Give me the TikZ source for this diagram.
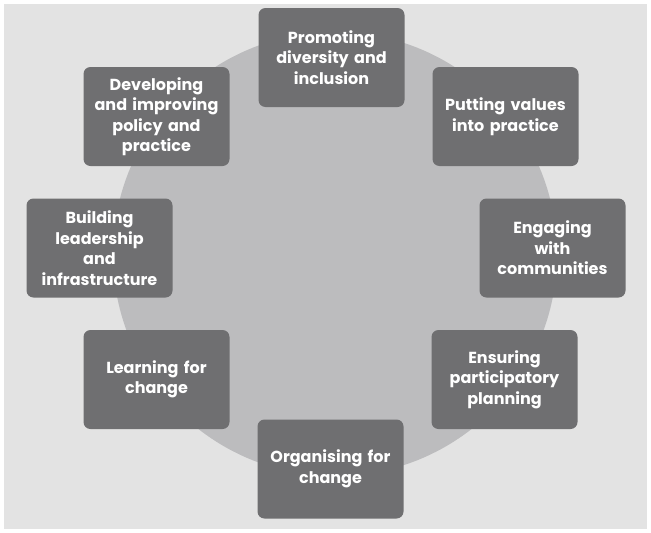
\documentclass[tikz,border=0pt]{standalone}
\usepackage{fontspec}
\setmainfont{Poppins}
\definecolor{bgfill}{HTML}{E3E3E3}
\definecolor{circfill}{HTML}{BCBCBE}
\definecolor{boxfill}{HTML}{6F6F71}
\tikzset{
  stagebox/.style={fill=boxfill, rounded corners=7pt, minimum width=146pt, minimum height=99pt,
    text width=140pt, align=center, text=white, inner sep=0pt,
    font=\fontsize{16}{20.5}\selectfont\bfseries},
}
\begin{document}
\begin{tikzpicture}[x=1pt,y=-1pt]
\useasboundingbox (0,0) rectangle (651,533);
\fill[white] (0,0) rectangle (651,533);
\fill[bgfill] (4,4) rectangle (647,529);
\fill[circfill] (335,254) circle[radius=222];
\node[stagebox] (promo) at (331.5,57.5) {Promoting\\diversity and\\inclusion};
\node[stagebox] (values) at (505.5,116.5) {Putting values\\into practice};
\node[stagebox] (engage) at (552.5,248) {Engaging\\with\\communities};
\node[stagebox] (ensure) at (504.5,379.5) {Ensuring\\participatory\\planning};
\node[stagebox] (organ) at (330.5,469) {Organising for\\change};
\node[stagebox] (learn) at (156.5,379.5) {Learning for\\change};
\node[stagebox] (build) at (99.5,248) {Building\\leadership\\and\\infrastructure};
\node[stagebox] (develop) at (156.5,116.5) {Developing\\and improving\\policy and\\practice};
\end{tikzpicture}
\end{document}
